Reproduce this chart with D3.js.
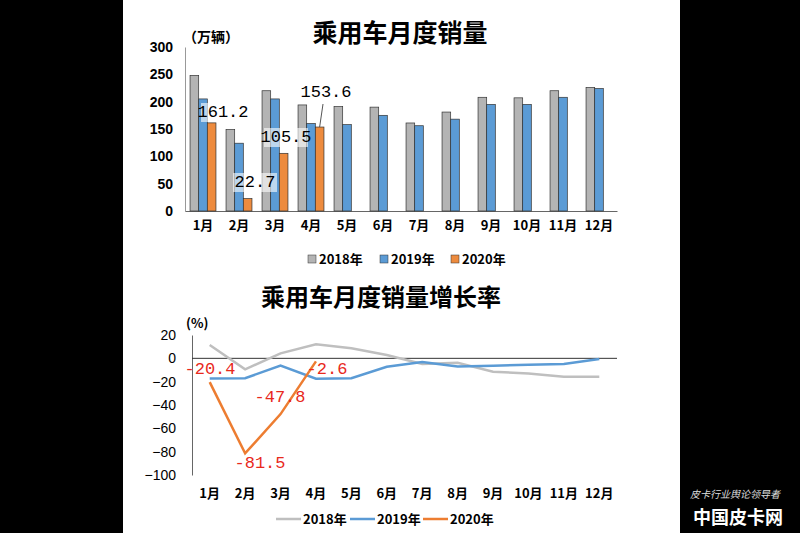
<!DOCTYPE html>
<html><head><meta charset="utf-8">
<script src="https://cdn.jsdelivr.net/npm/d3@7"></script>
<style>body{margin:0;background:#000}svg{display:block}</style>
</head><body><svg id="c" width="800" height="533"></svg>
<script>
const months = ["1月","2月","3月","4月","5月","6月","7月","8月","9月","10月","11月","12月"];
const years = ["2018年","2019年","2020年"];
const sales2018 = [248,149,220,194,191,190,161,181,208,207,220,226];
const sales2019 = [205,124,205,160,158,175,156,168,195,195,208,224];
const sales2020 = [161.2,22.7,105.5,153.6];
const growth2018 = [11.4,-9.4,4.3,12,8.6,2.8,-4.9,-3.8,-11.5,-12.9,-15.7,-15.7];
const growth2019 = [-17.2,-17,-6.3,-17.4,-17,-7.2,-3.2,-7,-6.3,-5.5,-4.9,-0.6];
const growth2020 = [-20.4,-81.5,-47.8,-2.6];
const barTicks = [0,50,100,150,200,250,300];
const lineTicks = [20,0,-20,-40,-60,-80,-100];

const svg = d3.select("#c");
const cjk = "'Noto Sans CJK SC', sans-serif";
const mono = "'Liberation Mono', 'DejaVu Sans Mono', monospace";
svg.append("rect").attr("x",123).attr("y",0).attr("width",557).attr("height",533).attr("fill","#fff");
const colBar = ["#b4b4b4","#5b9bd5","#ed8b3e"];
const colLine = ["#bfbfbf","#5b9bd5","#ed7d31"];

// ---- Bar chart
const x1 = d3.scaleBand().domain(months).range([185,617]).paddingInner(0.28).paddingOuter(0.14);
const xs = d3.scaleBand().domain([0,1,2]).range([0,x1.bandwidth()]).padding(0);
const y1 = d3.scaleLinear().domain([0,300]).range([211,47]);
svg.append("text").attr("x",400).attr("y",42).attr("text-anchor","middle").attr("font-family",cjk).attr("font-size",25).attr("font-weight","bold").text("乘用车月度销量");
svg.append("text").attr("x",183).attr("y",42).attr("font-family",cjk).attr("font-size",14).attr("font-weight","bold").text("（万辆）");
const ya1 = svg.append("g").attr("transform","translate(185,0)").call(d3.axisLeft(y1).tickValues(barTicks).tickSize(0).tickPadding(12));
ya1.select(".domain").attr("stroke","#999");
ya1.selectAll("text").attr("font-size",14).attr("font-weight","bold").attr("font-family","Liberation Sans, Arial").attr("fill","#000");
const xa1 = svg.append("g").attr("transform","translate(0,211)").call(d3.axisBottom(x1).tickSize(0).tickPadding(10));
xa1.select(".domain").attr("stroke","#666");
xa1.selectAll("text").attr("font-size",13).attr("font-weight","bold").attr("font-family",cjk).attr("fill","#000");
[sales2018,sales2019,sales2020].forEach((arr,si)=>{
  svg.append("g").selectAll("rect").data(arr).join("rect")
    .attr("x",(d,i)=>x1(months[i])+xs(si)).attr("width",xs.bandwidth())
    .attr("y",d=>y1(d)).attr("height",d=>211-y1(d))
    .attr("fill",colBar[si]).attr("stroke","#333").attr("stroke-width",0.7);
});
// labels
const barLbl = [[223,117],[255,187],[286,142],[326,97]];
sales2020.forEach((v,i)=>{
  const [lx,ly]=barLbl[i];
  svg.append("rect").attr("x",lx-22).attr("y",ly-14).attr("width",44).attr("height",19).attr("fill","#fff").attr("opacity",0.6);
  svg.append("text").attr("x",lx).attr("y",ly).attr("text-anchor","middle").attr("font-family",mono).attr("font-size",17).attr("fill","#000").text(v.toFixed(1));
});
svg.append("line").attr("x1",323).attr("y1",104).attr("x2",x1("4月")+xs(2)+xs.bandwidth()/2).attr("y2",y1(sales2020[3])).attr("stroke","#555");
const lg1 = svg.append("g");
[308,380,451].forEach((lx,i)=>{
  lg1.append("rect").attr("x",lx).attr("y",255).attr("width",8).attr("height",8).attr("fill",colBar[i]).attr("stroke","#333").attr("stroke-width",0.5);
  lg1.append("text").attr("x",lx+11).attr("y",264).attr("font-family",cjk).attr("font-size",13).attr("font-weight","bold").text(years[i]);
});

// ---- Line chart
const x2 = d3.scaleBand().domain(months).range([192,617]);
const y2 = d3.scaleLinear().domain([-100,20]).range([475,335]);
svg.append("text").attr("x",381).attr("y",306).attr("text-anchor","middle").attr("font-family",cjk).attr("font-size",24).attr("font-weight","bold").text("乘用车月度销量增长率");
svg.append("text").attr("x",186).attr("y",328).attr("font-family",cjk).attr("font-size",13).attr("font-weight","bold").text("(%)");
const ya2 = svg.append("g").attr("transform","translate(192,0)").call(d3.axisLeft(y2).tickValues(lineTicks).tickSize(0).tickPadding(16));
ya2.select(".domain").attr("stroke","#666");
ya2.selectAll("text").attr("font-size",14).attr("font-family","Liberation Sans, Arial").attr("fill","#000");
svg.append("line").attr("x1",192).attr("x2",617).attr("y1",y2(0)).attr("y2",y2(0)).attr("stroke","#333");
svg.append("g").selectAll("text").data(months).join("text").attr("x",d=>x2(d)+x2.bandwidth()/2).attr("y",498)
  .attr("text-anchor","middle").attr("font-family",cjk).attr("font-size",13).attr("font-weight","bold").text(d=>d);
const line = d3.line().x((d,i)=>x2(months[i])+x2.bandwidth()/2).y(d=>y2(d));
[growth2018,growth2019,growth2020].forEach((arr,si)=>{
  svg.append("path").datum(arr).attr("d",line).attr("fill","none").attr("stroke",colLine[si]).attr("stroke-width",2.5);
});
const lineLbl = [[210,374],[260,468],[280,402],[327,374]];
growth2020.forEach((v,i)=>{
  const [lx,ly]=lineLbl[i];
  svg.append("text").attr("x",lx).attr("y",ly).attr("text-anchor","middle").attr("font-family",mono).attr("font-size",17).attr("fill","#e8291c").text(v.toFixed(1));
});
const lg2 = svg.append("g");
[276,350,423].forEach((lx,i)=>{
  lg2.append("line").attr("x1",lx).attr("x2",lx+25).attr("y1",519).attr("y2",519).attr("stroke",colLine[i]).attr("stroke-width",2.5);
  lg2.append("text").attr("x",lx+27).attr("y",524).attr("font-family",cjk).attr("font-size",13).attr("font-weight","bold").text(years[i]);
});
// watermark
svg.append("text").attr("x",735).attr("y",498).attr("text-anchor","middle").attr("font-family",cjk).attr("font-size",10).attr("font-style","italic").attr("fill","#ddd").text("皮卡行业舆论领导者");
svg.append("text").attr("x",738).attr("y",524).attr("text-anchor","middle").attr("font-family",cjk).attr("font-size",18).attr("font-weight","bold").attr("fill","#fff").text("中国皮卡网");
</script></body></html>
